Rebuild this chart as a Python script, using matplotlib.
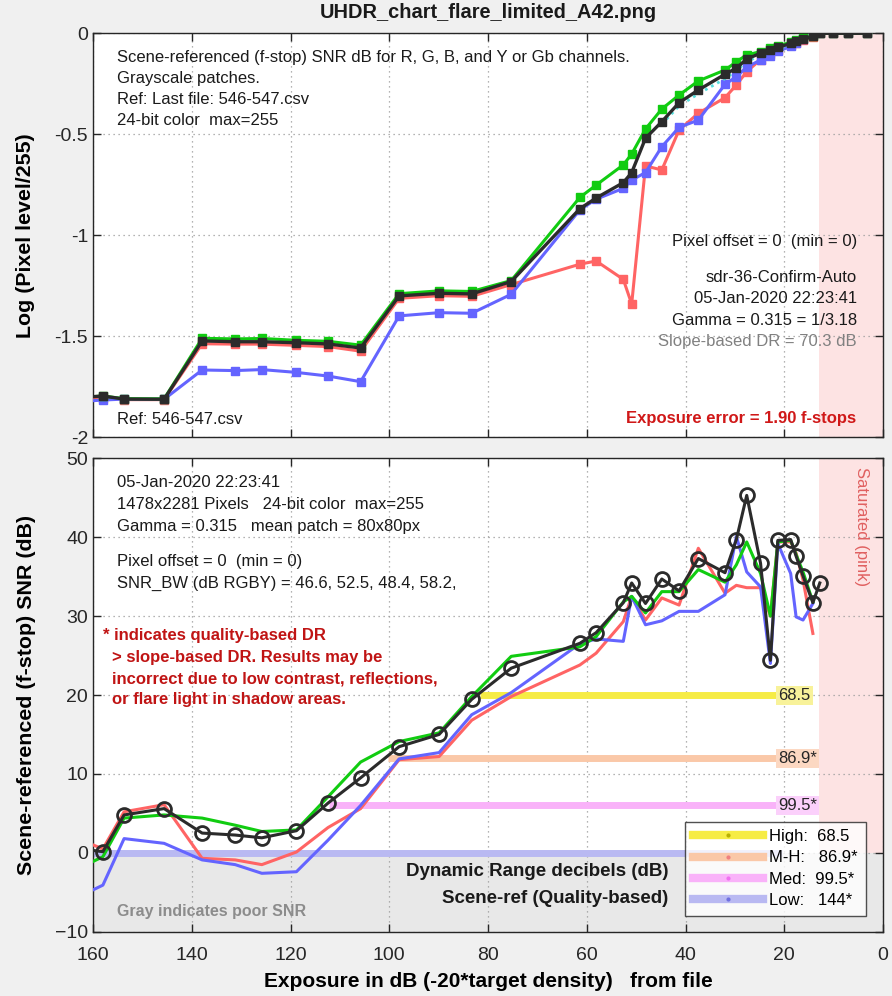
import numpy as np
import matplotlib
matplotlib.use("Agg")
import matplotlib.pyplot as plt
from matplotlib.lines import Line2D

plt.rcParams['font.family'] = ['Liberation Sans', 'DejaVu Sans']

# Patch exposures (dB), left to right on the reversed axis
exposure_db = [160, 158.0, 153.7, 145.6, 137.9, 131.2, 125.8, 118.8, 112.4, 105.8,
               98.0, 89.9, 83.3, 75.3, 61.4, 58.1, 52.6, 50.9, 48.1, 44.8,
               41.3, 37.4, 32.0, 29.7, 27.6, 24.8, 22.8, 21.3, 18.7, 17.6,
               16.2, 14.2, 12.8, 10.1, 7.0, 3.3]

# Log(pixel level / 255) per channel
log_black = [-1.800, -1.797, -1.812, -1.813, -1.524, -1.528, -1.528, -1.533, -1.539, -1.559,
             -1.301, -1.288, -1.291, -1.230, -0.869, -0.816, -0.740, -0.690, -0.520, -0.438,
             -0.344, -0.281, -0.203, -0.173, -0.127, -0.099, -0.083, -0.070, -0.050, -0.040,
             -0.030, -0.015, 0.0, 0.0, 0.0, 0.0]
log_green = [-1.800, -1.797, -1.810, -1.811, -1.511, -1.514, -1.512, -1.521, -1.526, -1.545,
             -1.290, -1.276, -1.279, -1.225, -0.813, -0.752, -0.652, -0.598, -0.474, -0.375,
             -0.306, -0.236, -0.182, -0.141, -0.107, -0.091, -0.075, -0.062, -0.045, -0.035,
             -0.025, -0.012, 0.0, 0.0, 0.0, 0.0]
log_red = [-1.810, -1.805, -1.815, -1.815, -1.538, -1.540, -1.540, -1.546, -1.552, -1.575,
           -1.313, -1.300, -1.303, -1.245, -1.144, -1.128, -1.219, -1.341, -0.657, -0.677,
           -0.479, -0.396, -0.319, -0.256, -0.190, -0.130, -0.105, -0.085, -0.060, -0.048,
           -0.035, -0.018, 0.0, 0.0, 0.0, 0.0]
log_blue = [-1.820, -1.817, -1.812, -1.813, -1.668, -1.671, -1.666, -1.680, -1.698, -1.726,
            -1.400, -1.384, -1.387, -1.293, -0.875, -0.822, -0.768, -0.727, -0.690, -0.562,
            -0.466, -0.430, -0.253, -0.215, -0.168, -0.132, -0.112, -0.090, -0.065, -0.048,
            -0.030, -0.005, 0.0, 0.0, 0.0, 0.0]
cyan_db = [44.8, 41.3, 37.4, 32.0, 29.7, 27.6, 24.8, 22.8, 21.3, 18.7, 17.6, 16.2, 14.2, 12.8]
log_cyan = [-0.450, -0.360, -0.300, -0.225, -0.185, -0.140, -0.110, -0.090, -0.075, -0.052,
            -0.042, -0.031, -0.016, 0.0]

# Scene-referenced SNR (dB), first 33 exposures
snr_black = [0.3, 0.14, 4.8, 5.6, 2.5, 2.25, 1.9, 2.8, 6.3, 9.5,
             13.45, 15.0, 19.45, 23.4, 26.55, 27.9, 31.7, 34.2, 31.6, 34.7,
             33.2, 37.3, 35.5, 39.7, 45.3, 36.7, 24.4, 39.6, 39.7, 37.6,
             35.1, 31.7, 34.2]
snr_green = [-1.1, -0.5, 4.4, 4.8, 4.4, 3.5, 2.7, 2.9, 7.1, 11.5,
             14.1, 15.2, 19.8, 24.9, 26.1, 27.4, 31.8, 32.5, 30.4, 33.1,
             33.1, 35.9, 34.3, 36.5, 39.4, 35.4, 30.0, 39.4, 39.6, 37.8,
             35.6, 31.8, np.nan]
snr_red = [1.0, 0.5, 5.2, 6.1, -0.7, -0.9, -1.5, 0.1, 3.2, 5.6,
           11.8, 12.2, 16.8, 19.8, 23.8, 25.3, 29.3, 32.5, 29.5, 32.3,
           31.4, 38.6, 32.9, 33.9, 33.6, 33.6, 30.0, 39.4, 39.4, 38.0,
           34.6, 27.8, np.nan]
snr_blue = [-4.7, -4.1, 1.8, 1.2, -0.9, -1.5, -2.6, -2.4, 1.6, 6.0,
            11.9, 12.7, 17.5, 20.3, 26.5, 27.1, 26.8, 32.5, 28.9, 29.4,
            30.6, 30.6, 32.7, 40.1, 35.6, 33.7, 24.0, 39.2, 35.4, 29.9,
            29.5, 31.6, np.nan]

# Quality-based dynamic range levels
dr_names = ["High", "M-H", "Med", "Low"]
dr_snr_level = [20, 12, 6, 0]
dr_start_db = [81.6, 100.2, 112.3, 160.0]
dr_value_text = ["68.5", "86.9*", "99.5*", "144*"]
dr_legend_text = ["High:  68.5", "M-H:   86.9*", "Med:  99.5*", "Low:   144*"]
dr_colors = ["#f6ec45", "#fac8a8", "#f9b2f9", "#b9b9f2"]
dr_box_colors = ["#f8f29a", "#fcd8c2", "#fbd0fb", "#d8d8f8"]
dr_dot_colors = ["#b8b000", "#f08080", "#f070f0", "#7070e0"]

saturation_db = 12.9

C_GREEN = "#11cc11"
C_RED = "#ff6464"
C_BLUE = "#6464ff"
C_BLACK = "#2b2b2b"

TXT = 12

W, H = 892, 996
fig = plt.figure(figsize=(W / 100, H / 100), dpi=100, facecolor="#f0f0f0")

def frac_axes(left, top, right, bottom):
    return fig.add_axes([left / W, 1 - bottom / H, (right - left) / W, (bottom - top) / H])

ax1 = frac_axes(93, 33.3, 883, 437)
ax2 = frac_axes(93, 458.3, 883, 931.7)

def style_axes(ax, yticks, ylim):
    ax.set_xlim(160, 0)
    ax.set_ylim(*ylim)
    ax.set_xticks(np.arange(160, -1, -20))
    ax.set_yticks(yticks)
    ax.grid(True, linestyle=(0, (1, 3)), color="#9a9a9a", linewidth=0.9)
    ax.tick_params(direction="in", top=True, right=True, length=6, width=1,
                   labelsize=14, color="#262626", labelcolor="#262626")
    ax.tick_params(axis="x", pad=11)
    for sp in ax.spines.values():
        sp.set_color("#262626")
        sp.set_linewidth(1.0)
    ax.set_axisbelow(True)

# ---------------- Top: tonal response ----------------
style_axes(ax1, [0, -0.5, -1, -1.5, -2], (-2, 0))
ax1.set_yticklabels(["0", "-0.5", "-1", "-1.5", "-2"])
ax1.set_xticklabels([])
ax1.axvspan(saturation_db, 0, color="#fde3e3", zorder=0.5, lw=0)

mk = dict(marker="s", markersize=6, markevery=list(range(1, len(exposure_db))))
ax1.plot(exposure_db, log_red, color=C_RED, lw=2.2, zorder=3, **mk)
ax1.plot(exposure_db, log_blue, color=C_BLUE, lw=2.2, zorder=3, **mk)
ax1.plot(exposure_db, log_green, color=C_GREEN, lw=2.2, zorder=3, **mk)
ax1.plot(cyan_db, log_cyan, color="#55dddd", lw=2, ls=(0, (1, 1.5)), zorder=3)
ax1.plot(exposure_db, log_black, color=C_BLACK, lw=2.4, zorder=4, **mk)

ax1.set_ylabel("Log (Pixel level/255)", fontsize=15.4, fontweight="bold", labelpad=14)

top_left_lines = ["Scene-referenced (f-stop) SNR dB for R, G, B, and Y or Gb channels.",
                  "Grayscale patches.",
                  "Ref: Last file: 546-547.csv",
                  "24-bit color  max=255"]
for i, s in enumerate(top_left_lines):
    ax1.text(155.1, -0.122 - 0.104 * i, s, fontsize=TXT, va="center", ha="left", color="#1a1a1a")
ax1.text(155.1, -1.911, "Ref: 546-547.csv", fontsize=TXT, va="center", ha="left", color="#1a1a1a")

right_lines = [("Pixel offset = 0  (min = 0)", -1.029, "#1a1a1a"),
               ("sdr-36-Confirm-Auto", -1.212, "#1a1a1a"),
               ("05-Jan-2020 22:23:41", -1.316, "#1a1a1a"),
               ("Gamma = 0.315 = 1/3.18", -1.425, "#1a1a1a"),
               ("Slope-based DR = 70.3 dB", -1.529, "#808080")]
for s, y, c in right_lines:
    ax1.text(5.3, y, s, fontsize=TXT, va="center", ha="right", color=c, zorder=5)
ax1.text(5.5, -1.906, "Exposure error = 1.90 f-stops", fontsize=TXT, fontweight="bold",
         va="center", ha="right", color="#d01818", zorder=5)

fig.text(488 / W, 1 - 12 / H, "UHDR_chart_flare_limited_A42.png", fontsize=14.4,
         fontweight="bold", ha="center", va="center", color="#1a1a1a")

# ---------------- Bottom: SNR ----------------
style_axes(ax2, np.arange(-10, 51, 10), (-10, 50))
ax2.axhspan(-10, 0, color="#e8e8e8", zorder=0.4, lw=0)
ax2.fill_between([saturation_db, 0], 0, 50, color="#fde3e3", zorder=0.5, lw=0)

for lvl, x0, col in zip(dr_snr_level, dr_start_db, dr_colors):
    ax2.plot([x0, 20.5], [lvl, lvl], color=col, lw=5, solid_capstyle="butt", zorder=1.5)
for lvl, txt, bc in zip(dr_snr_level[:3], dr_value_text[:3], dr_box_colors[:3]):
    ax2.text(21.2, lvl, txt, fontsize=TXT, ha="left", va="center", color="#262626", zorder=2,
             bbox=dict(boxstyle="square,pad=0.12", facecolor=bc, edgecolor="none"))

n = len(snr_black)
xs = exposure_db[:n]
ax2.plot(xs, snr_red, color=C_RED, lw=2.2, zorder=3)
ax2.plot(xs, snr_blue, color=C_BLUE, lw=2.2, zorder=3)
ax2.plot(xs, snr_green, color=C_GREEN, lw=2.2, zorder=3)
ax2.plot(xs, snr_black, color=C_BLACK, lw=2.2, zorder=4)
ax2.plot(xs[1:], snr_black[1:], ls="none", marker="o", markersize=10, markerfacecolor="none",
         markeredgecolor=C_BLACK, markeredgewidth=2, zorder=5)

ax2.set_ylabel("Scene-referenced (f-stop) SNR (dB)", fontsize=15.4, fontweight="bold", labelpad=14)
ax2.set_xlabel("Exposure in dB (-20*target density)   from file", fontsize=15,
               fontweight="bold", labelpad=6)

info_lines = [("05-Jan-2020 22:23:41", 46.9),
              ("1478x2281 Pixels   24-bit color  max=255", 44.2),
              ("Gamma = 0.315   mean patch = 80x80px", 41.4),
              ("Pixel offset = 0  (min = 0)", 36.9),
              ("SNR_BW (dB RGBY) = 46.6, 52.5, 48.4, 58.2,", 34.2)]
for s, y in info_lines:
    ax2.text(155.1, y, s, fontsize=TXT, va="center", ha="left", color="#1a1a1a")

warn = [("* indicates quality-based DR", 158.0, 27.6),
        ("> slope-based DR. Results may be", 156.2, 24.8),
        ("incorrect due to low contrast, reflections,", 156.2, 22.0),
        ("or flare light in shadow areas.", 156.2, 19.4)]
for s, x, y in warn:
    ax2.text(x, y, s, fontsize=TXT, fontweight="bold", va="center", ha="left", color="#c01414")

ax2.text(155.1, -7.4, "Gray indicates poor SNR", fontsize=11.5, fontweight="bold",
         va="center", ha="left", color="#8c8c8c")
ax2.text(43.5, -2.4, "Dynamic Range decibels (dB)", fontsize=13.5, fontweight="bold",
         va="center", ha="right", color="#1a1a1a", zorder=6)
ax2.text(43.5, -5.8, "Scene-ref (Quality-based)", fontsize=13.5, fontweight="bold",
         va="center", ha="right", color="#1a1a1a", zorder=6)
ax2.text(0.973, 0.855, "Saturated (pink)", transform=ax2.transAxes, rotation=-90,
         fontsize=TXT, va="center", ha="center", color="#e06060")

handles = [Line2D([0], [0], color=c, lw=6, marker=".", markersize=4,
                  markerfacecolor=d, markeredgecolor=d)
           for c, d in zip(dr_colors, dr_dot_colors)]
leg = ax2.legend(handles, dr_legend_text, loc="lower right", bbox_to_anchor=(0.978, 0.034),
                 fontsize=12, frameon=True, fancybox=False, handlelength=4.2,
                 labelspacing=0.38, borderpad=0.45, handletextpad=0.4, borderaxespad=0)
leg.get_frame().set_edgecolor("#262626")
leg.get_frame().set_linewidth(1.0)
leg.set_zorder(10)

fig.savefig("out.png", dpi=100, facecolor=fig.get_facecolor())
